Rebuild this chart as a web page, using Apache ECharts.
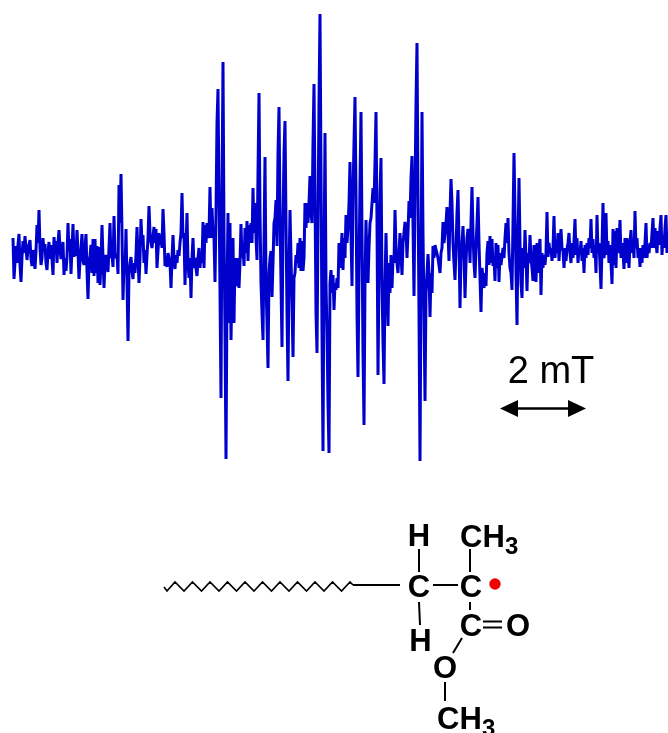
<!DOCTYPE html>
<html>
<head>
<meta charset="utf-8">
<style>html,body{margin:0;padding:0;background:#fff}#c{width:668px;height:733px}</style>
<script src="https://cdn.jsdelivr.net/npm/echarts@6/dist/echarts.min.js"></script>
</head>
<body>
<div id="c"></div>
<script>
const firstChannel = 13;
const intensityA = [15,-26,-28,7,-10,8,19,-12,-29,-4,12,0,17,5,-7,4,6,13,-6,-13,3,-4,-16,2,28,10,43,5,-12,-5,15,2,9,-10,-17,0,11,-6,8,-6,-22,16,3,12,-10,10,23,4,-6,3,11,-22,-5,-18,-4,30,2,14,-21,5,29,-4,10,-3,23,0,-26,-8,5,19,-8,-12,5,19,-18,-46,-10,-3,8,-20,14,-23,14,-20,7,-30,6,-32,-8,28,-5,-35,-10,-2,0,-19,5,30,-5,-2,-14,37,0,-5,-2,-21,68,30,79,20,-47,-10,-20,24,-30,-88,-20,-10,-4,-18,-26,-10,-20,-2,26,-5,-30,-5,34,10,18,-10,3,-21,-2,15,47,20,10,5,3,26,10,24,-15,2,20,8,18,5,44,20,-13,-4,-14,0,-2,-10,-35,-6,18,-6,-16,-2,-10,3,-3,10,20,60,15,20,-32,5,40,-10,-25,-5,-45,-5,15,-15,-5,-15,-23,-5,5,-15,0,-10,31,-15,28,10,30,15,20,66,15,45,20];
const intensityB = [15,-29,40,130,164,60,-40,-145,60,191,20,-80,-206,-40,40,-70,30,-87,-30,15,-70,-5,-30,-33,-5,-35,-10,29,-5,5,-13,25,0,32,-8,28,10,30,10,65,20,50,15,-7,80,160,40,-30,-60,-87,10,96,-30,-70,-115,-20,-5,2,-44,-10,30,35,53,7,100,146,40,-30,-94,30,100,132,30,-60,-128,-20,43,-5,-50,-104,-25,-20,-2,-10,10,-15,15,-18,12,-18,-5,50,25,50,30,50,77,40,30,110,169,60,-60,-100,30,150,239,80,-80,-198,-10,120,-30,-80,-150,-200,-30,-17,-40,-22,-57];
const intensityC = [-30,-37,-25,-35,10,-15,0,20,-17,15,-5,38,10,25,50,91,20,-33,60,110,156,60,-60,-124,-20,70,141,20,-100,-172,-30,33,-10,-30,5,30,35,33,65,50,90,141,30,-122,-20,60,95,-30,-90,-131,-30,20,-30,-73,-10,-40,-2,-35,-5,-10,43,5,-10,-20,0,20,0,-22,10,20,31,25,-5,20,52,35,75,97,30,-43,60,150,210,60,-60,-208,-30,141,20,-60,-148,-40,-20,-1,-20,-64,-20,-40,7,-5,8,10,9,-5,-5,-20,0,5,31,10,20,30,46,20,-8,40,74,50,10,-10,-27,5,40,63,10,-55,-5,10,27,0,-45,-10,15,24,20,-10,30,66,20,-10,-25,5,30,56,10,-25,-59,-15,-25,-35,-20,-33,0,12,-12,17,-10,14,-13,-5,-28,10,-15,8,-29,0,-12];
const intensityD = [-12,5,-5,15,30,10,35,0,-15,-20,-37,30,100,40,-20,-72,10,75,10,-30,-45,5,-15,23,-5,-38,0,-10,18,-5,-15,-28,8,-15,-29,10,-20,5,14,-42,0,-15,-2,-12,0,41,-4,10,0,5,-8,5,37,-5,10,0,20,-8,10,24,5,2,-15,5,-8,4,10,20,0,-10,10,-5,12,34,-2,15,-10,5,0,12,-8,5,-20,8,-5,10,-2,15,5,34,0,14,-5,8,-20,38,0,10,-12,-36,5,50,-5,5,40,-2,12,-10,8,-10,-31,24,-12,22,-15,25,0,10,33,-5,10,0,-16,15,-10,15,0,-15,10,23,0,12,-5,42,5,15,-5,5,-14,5,-10,8,-5,10,30,-5,8,0,10,5,20,35,5,25,10,0,22,8,25,38,-2,18,5,25,38,0];
const scaleLabel = '2 mT';
const trace = [...intensityA, ...intensityB, ...intensityC, ...intensityD].map((v, i) => [firstChannel + i, v]);

const ink = '#000';
const boldFont = 'bold 31px "Liberation Sans", Arial, sans-serif';
const subFont = 'bold 24px "Liberation Sans", Arial, sans-serif';
function label(text, x, y, font, align) {
  return {type:'text', silent:true, style:{text, x, y, font: font || boldFont, fill: ink, align: align || 'center', verticalAlign:'middle'}};
}
function bond(x1, y1, x2, y2, w) {
  return {type:'line', silent:true, shape:{x1,y1,x2,y2}, style:{stroke: ink, lineWidth: w || 2}};
}
const zigzag = [[164,587],[167,591]];
for (let k = 0; k < 11; k++) { zigzag.push([175 + k*17.5, 582]); zigzag.push([184 + k*17.5, 591]); }
zigzag.pop();
zigzag.push([353,585]);

const graphic = [
  label(scaleLabel, 551, 373, '38px "Liberation Sans", Arial, sans-serif'),
  bond(516,408.5,570,408.5,2.5),
  {type:'polygon', silent:true, shape:{points:[[500,408.5],[518,400],[518,417]]}, style:{fill:ink}},
  {type:'polygon', silent:true, shape:{points:[[586,408.5],[568,400],[568,417]]}, style:{fill:ink}},
  {type:'polyline', silent:true, shape:{points:zigzag}, style:{stroke:ink, fill:null, lineWidth:1.6}},
  bond(353,585,400,585),
  label('H',419,537), label('CH',460,538,boldFont,'left'), label('3',505,547,subFont,'left'),
  label('C',419,588), label('C',471,588),
  label('C',471,627.5), label('O',518,627),
  label('H',420.5,642), label('O',445,669),
  label('CH',437,720,boldFont,'left'), label('3',482,729,subFont,'left'),
  bond(419,549,419,572), bond(470,549,470,572),
  bond(433,585,458,585),
  bond(419,602,420,625), bond(470,602,470,610),
  bond(483,621.5,502,621.5), bond(483,627.5,502,627.5),
  bond(462,638,453,653), bond(445,682,445,701),
  {type:'circle', silent:true, shape:{cx:495,cy:584,r:5.7}, style:{fill:'#f00000'}}
];

const chart = echarts.init(document.getElementById('c'), null, {renderer:'canvas'});
chart.setOption({
  animation:false,
  backgroundColor:'#fff',
  grid:{left:0,right:0,top:0,bottom:0},
  xAxis:{type:'value',min:0,max:668,show:false},
  yAxis:{type:'value',min:-480,max:253,show:false},
  series:[{type:'line',data:trace,showSymbol:false,symbol:'none',clip:false,silent:true,
    lineStyle:{color:'#0000cd',width:3}}],
  graphic:{elements:graphic}
});
</script>
</body>
</html>
